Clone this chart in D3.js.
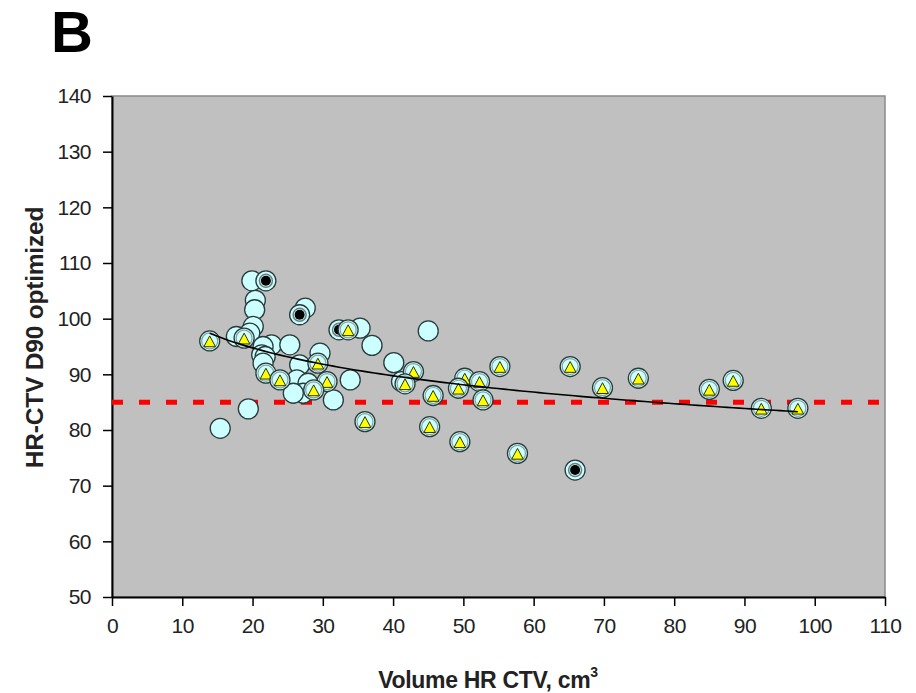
<!DOCTYPE html>
<html lang="en">
<head>
    <meta charset="UTF-8">
    <title>HR-CTV D90 vs volume</title>
    <script src="https://d3js.org/d3.v7.min.js"></script>
    <style>
        body { margin: 0; background: #ffffff; }
        text { font-family: Arial, "Liberation Sans", sans-serif; }
        .tick text { font-size: 21px; fill: #222222; }
    </style>
</head>
<body>
    <svg id="chart" width="916" height="693"></svg>
    <script>
        // Plain circles (volume cm3, D90)
        const plainX = [19.9, 20.4, 20.3, 20.1, 19.6, 17.7, 27.5, 35.3, 37.0, 22.7, 25.3, 21.5, 21.3, 21.8, 21.5,
                        26.7, 29.6, 33.9, 26.3, 27.9, 27.2, 31.5, 19.4, 15.4, 40.1, 45.0, 41.2, 25.8];
        const plainY = [106.8, 103.3, 101.6, 98.6, 97.4, 96.8, 101.9, 98.3, 95.2, 95.3, 95.3, 95.0, 93.5, 93.2, 92.0,
                        91.7, 93.8, 89.0, 89.0, 88.4, 86.6, 85.4, 83.8, 80.3, 92.1, 97.8, 88.7, 86.6];

        // Circles with a black dot
        const dotX = [21.9, 26.7, 32.3, 65.9];
        const dotY = [106.8, 100.7, 98.0, 72.8];

        // Circles with a yellow triangle
        const triX = [13.9, 18.8, 33.6, 21.9, 23.9, 29.3, 30.6, 28.7, 36.0, 42.9, 41.7, 45.7, 50.2, 49.3, 52.3,
                      52.8, 55.2, 65.2, 69.8, 45.2, 49.5, 57.7, 74.9, 85.0, 88.4, 92.4, 97.6];
        const triY = [96.0, 96.5, 98.0, 90.2, 89.0, 92.0, 88.7, 87.2, 81.5, 90.5, 88.3, 86.2, 89.3, 87.5, 88.7,
                      85.4, 91.4, 91.4, 87.6, 80.6, 77.9, 75.8, 89.3, 87.3, 88.9, 83.9, 83.9];

        const xTicks = d3.range(0, 111, 10);
        const yTicks = d3.range(50, 141, 10);
        const referenceD90 = 85;

        const margin = {top: 96, right: 31, bottom: 96, left: 112};
        const width = 916 - margin.left - margin.right,
              height = 693 - margin.top - margin.bottom;

        const svg = d3.select("#chart");
        const g = svg.append("g")
            .attr("transform", `translate(${margin.left},${margin.top})`);

        const x = d3.scaleLinear().domain([0, 110]).range([0, width]);
        const y = d3.scaleLinear().domain([50, 140]).range([height, 0]);

        // Plot background
        g.append("rect")
            .attr("width", width)
            .attr("height", height)
            .attr("fill", "#c0c0c0")
            .attr("stroke", "#8a8a8a")
            .attr("stroke-width", 1.5);

        // Axes
        const xAxis = g.append("g")
            .attr("transform", `translate(0,${height})`)
            .call(d3.axisBottom(x).tickValues(xTicks).tickSize(9).tickPadding(10).tickSizeOuter(0));
        const yAxis = g.append("g")
            .call(d3.axisLeft(y).tickValues(yTicks).tickSize(9).tickPadding(12).tickSizeOuter(0));
        [xAxis, yAxis].forEach(a => {
            a.select(".domain").attr("stroke", "#000").attr("stroke-width", 2);
            a.selectAll(".tick line").attr("stroke", "#000").attr("stroke-width", 1.5);
            a.attr("font-family", null).attr("font-size", null);
        });
        yAxis.selectAll(".tick text").attr("dx", "0").attr("letter-spacing", "-0.5");
        xAxis.selectAll(".tick text").attr("dy", "0.8em").attr("letter-spacing", "-0.5");

        // Red dashed reference line
        g.append("line")
            .attr("x1", 0).attr("x2", width)
            .attr("y1", y(referenceD90)).attr("y2", y(referenceD90))
            .attr("stroke", "#ff0000")
            .attr("stroke-width", 5)
            .attr("stroke-dasharray", "11,16");

        const r = 10;
        const plain = plainX.map((v, i) => ({x: v, y: plainY[i]}));
        const dots = dotX.map((v, i) => ({x: v, y: dotY[i]}));
        const tris = triX.map((v, i) => ({x: v, y: triY[i]}));

        function base(sel) {
            sel.append("circle")
                .attr("r", r)
                .attr("fill", "#ccffff")
                .attr("stroke", "#2a3a3a")
                .attr("stroke-width", 1.3);
        }

        g.append("g").selectAll("g")
            .data(plain)
            .join("g")
            .attr("transform", d => `translate(${x(d.x)},${y(d.y)})`)
            .call(base);

        const dotG = g.append("g").selectAll("g")
            .data(dots)
            .join("g")
            .attr("transform", d => `translate(${x(d.x)},${y(d.y)})`)
            .call(base);
        dotG.append("circle").attr("r", 6.5).attr("fill", "none").attr("stroke", "#6a8080").attr("stroke-width", 1.5);
        dotG.append("circle").attr("r", 5).attr("fill", "#000");

        const triG = g.append("g").selectAll("g")
            .data(tris)
            .join("g")
            .attr("transform", d => `translate(${x(d.x)},${y(d.y)})`)
            .call(base);
        triG.append("circle").attr("r", 8).attr("fill", "none").attr("stroke", "#8aa0a0").attr("stroke-width", 1.2);
        triG.append("path")
            .attr("d", "M0,-5 L5.8,5.8 L-5.8,5.8 Z")
            .attr("fill", "#ffff00")
            .attr("stroke", "#333300")
            .attr("stroke-width", 1);

        // Logarithmic trend line fitted to all points
        const all = plain.concat(dots, tris);
        const lx = all.map(d => Math.log(d.x)), ly = all.map(d => d.y);
        const mx = d3.mean(lx), my = d3.mean(ly);
        const b = d3.sum(lx, (v, i) => (v - mx) * (ly[i] - my)) / d3.sum(lx, v => (v - mx) ** 2);
        const a = my - b * mx;
        const [xmin, xmax] = d3.extent(all, d => d.x);
        const trend = d3.range(0, 101).map(i => {
            const xv = xmin + (xmax - xmin) * i / 100;
            return [xv, a + b * Math.log(xv)];
        });
        g.append("path")
            .datum(trend)
            .attr("fill", "none")
            .attr("stroke", "#000")
            .attr("stroke-width", 1.6)
            .attr("d", d3.line().x(d => x(d[0])).y(d => y(d[1])));

        // Labels
        svg.append("text")
            .attr("x", 51).attr("y", 52)
            .attr("font-size", 58)
            .attr("font-weight", "bold")
            .text("B");

        svg.append("text")
            .attr("transform", `translate(43,${margin.top + height / 2 - 9}) rotate(-90)`)
            .attr("text-anchor", "middle")
            .attr("font-size", 24.5)
            .attr("font-weight", "bold")
            .attr("letter-spacing", "-0.2")
            .attr("fill", "#222")
            .text("HR-CTV D90 optimized");

        const xl = svg.append("text")
            .attr("x", 488).attr("y", 688)
            .attr("text-anchor", "middle")
            .attr("font-size", 23)
            .attr("font-weight", "bold")
            .attr("letter-spacing", "-0.3")
            .attr("fill", "#222");
        xl.append("tspan").text("Volume HR CTV, cm");
        xl.append("tspan").attr("dy", -11).attr("font-size", 14).text("3");
    </script>
</body>
</html>
